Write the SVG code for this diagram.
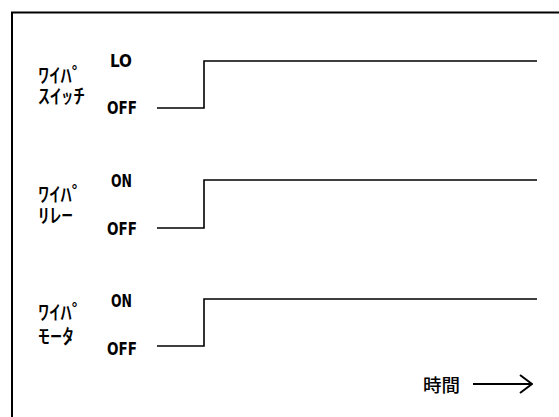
<svg xmlns="http://www.w3.org/2000/svg" width="559" height="417" viewBox="0 0 559 417">
<style>
.lat{font-family:"DejaVu Sans","Liberation Sans",sans-serif;font-size:18px;font-weight:600;fill:#000}
.jp{font-family:"Noto Sans CJK JP",sans-serif;font-size:20px;font-weight:500;fill:#000}
.tm{font-family:"Noto Sans CJK JP",sans-serif;font-size:18px;font-weight:500;fill:#000}
.sig{fill:none;stroke:#000;stroke-width:1.6}
</style>
<defs>
<marker id="open" markerWidth="14" markerHeight="20" refX="13" refY="10" orient="auto" markerUnits="userSpaceOnUse">
<path d="M1,1 L13,10 L1,19" fill="none" stroke="#000" stroke-width="2"/>
</marker>
</defs>
<rect width="559" height="417" fill="#fff"/>
<g id="frame"><path d="M12,417 V12.5 H559" fill="none" stroke="#000" stroke-width="2"/></g>
<g id="switch">
<text class="jp"><tspan x="38" y="83" textLength="45" lengthAdjust="spacingAndGlyphs">ﾜｲﾊﾟ</tspan><tspan x="38" y="104" textLength="47" lengthAdjust="spacingAndGlyphs">ｽｲｯﾁ</tspan></text>
<text class="lat" x="110" y="67" textLength="22" lengthAdjust="spacingAndGlyphs">LO</text>
<text class="lat" x="107" y="114" textLength="30" lengthAdjust="spacingAndGlyphs">OFF</text>
</g>
<g id="relay">
<text class="jp"><tspan x="38" y="202" textLength="45" lengthAdjust="spacingAndGlyphs">ﾜｲﾊﾟ</tspan><tspan x="38" y="223" textLength="35" lengthAdjust="spacingAndGlyphs">ﾘﾚｰ</tspan></text>
<text class="lat" x="111" y="187" textLength="21" lengthAdjust="spacingAndGlyphs">ON</text>
<text class="lat" x="107" y="235" textLength="30" lengthAdjust="spacingAndGlyphs">OFF</text>
</g>
<g id="motor">
<text class="jp"><tspan x="38" y="320" textLength="45" lengthAdjust="spacingAndGlyphs">ﾜｲﾊﾟ</tspan><tspan x="38" y="344" textLength="36" lengthAdjust="spacingAndGlyphs">ﾓｰﾀ</tspan></text>
<text class="lat" x="111" y="307" textLength="21" lengthAdjust="spacingAndGlyphs">ON</text>
<text class="lat" x="107" y="355" textLength="30" lengthAdjust="spacingAndGlyphs">OFF</text>
</g>
<g id="time">
<text class="tm" x="423" y="392" textLength="37" lengthAdjust="spacingAndGlyphs">時間</text>
</g>
<g id="connectors">
<path class="sig" d="M157,108 H204 V61 H537"/>
<path class="sig" d="M157,228 H204 V180 H537"/>
<path class="sig" d="M157,346 H204 V299 H537"/>
<path d="M473,384 H532" fill="none" stroke="#000" stroke-width="1.8" marker-end="url(#open)"/>
</g>
</svg>
